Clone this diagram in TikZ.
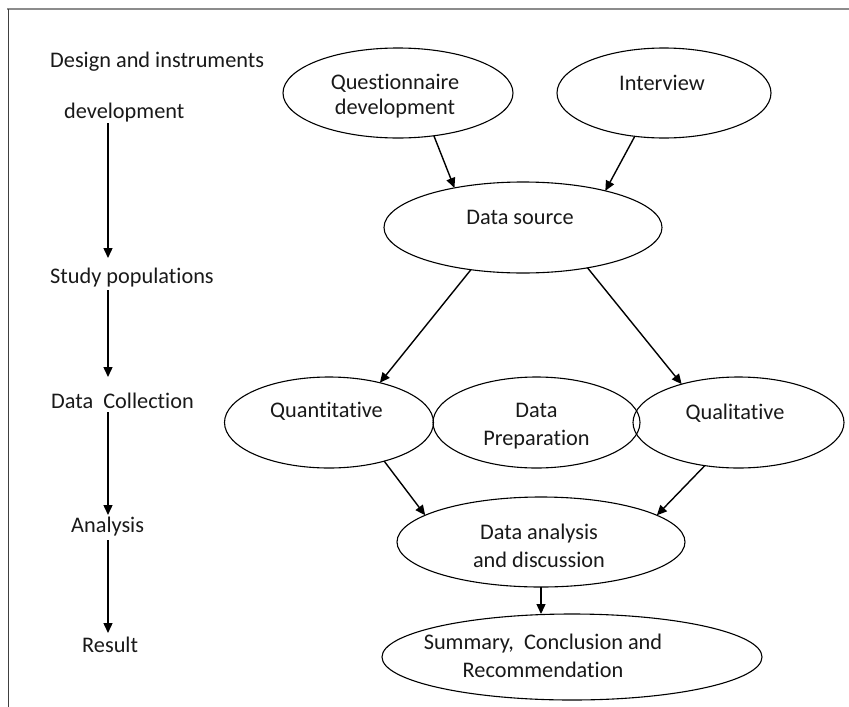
\documentclass[tikz,border=0pt]{standalone}
\usepackage{fontspec}
\setmainfont{Carlito}[Ligatures={NoCommon}]
\usetikzlibrary{shapes.geometric,arrows.meta}
\tikzset{
  ell/.style={ellipse, draw, line width=1.1pt, inner sep=0pt, outer sep=0pt},
  txt/.style={align=center, inner sep=0pt, text=black!90},
  lab/.style={anchor=base west, inner sep=0pt, text=black!90},
  arr/.style={line width=1.4pt, -{Triangle[length=10pt,width=9pt]}},
}
\begin{document}
\begin{tikzpicture}[x=1pt,y=-1pt,font=\fontsize{22.3}{28}\selectfont]
\useasboundingbox (0,0) rectangle (849,707);
% frame
\draw[black!45, line width=2.5pt] (7,9) -- (849,9);
\draw[black!75, line width=1pt] (8,9) -- (8,707);
% left labels
\node[lab] (l1) at (50,67) {Design and instruments};
\node[lab] (l2) at (64,118) {development};
\node[lab] (l3) at (50,283) {Study populations};
\node[lab] (l4) at (51,408) {Data\ \ Collection};
\node[lab] (l5) at (71,532) {Analysis};
\node[lab] (l6) at (82,652) {Result};
\coordinate (a1s) at (108,123); \coordinate (a1e) at (108,258);
\coordinate (a2s) at (108,290); \coordinate (a2e) at (108,377);
\coordinate (a3s) at (108,412); \coordinate (a3e) at (108,515);
\coordinate (a4s) at (108,540); \coordinate (a4e) at (108,633);
\draw[arr] (a1s) -- (a1e);
\draw[arr] (a2s) -- (a2e);
\draw[arr] (a3s) -- (a3e);
\draw[arr] (a4s) -- (a4e);
% ellipses
\node[ell, minimum width=230pt, minimum height=90pt] (qd) at (398,93) {};
\node[ell, minimum width=214pt, minimum height=90pt] (iv) at (664,93) {};
\node[ell, minimum width=278pt, minimum height=91pt] (ds) at (523,227.5) {};
\node[ell, minimum width=209pt, minimum height=91pt] (qn) at (329,422.5) {};
\node[ell, minimum width=207pt, minimum height=91pt] (dp) at (536.5,422.5) {};
\node[ell, minimum width=211pt, minimum height=91pt] (ql) at (738.5,422.5) {};
\node[ell, minimum width=288pt, minimum height=90pt] (da) at (541,542) {};
\node[ell, minimum width=380pt, minimum height=86pt] (sm) at (572,657) {};
% texts
\node[txt] (qdt) at (395,96) {Questionnaire\\[-3pt]development};
\node[txt] (ivt) at (662,83) {Interview};
\node[txt] (dst) at (520,217) {Data source};
\node[txt] (qnt) at (326.5,411) {Quantitative};
\node[txt] (dpt) at (536.5,426) {Data\\Preparation};
\node[txt] (qlt) at (735,413) {Qualitative};
\node[txt] (dat) at (539,546) {Data analysis\\and discussion};
\node[txt] (smt) at (543,656) {Summary,\ \ Conclusion and\\Recommendation};
% arrows
\draw[arr] (qd.-50.6) -- (ds.150.3);
\draw[arr] (iv.-124.6) -- (ds.24.2);
\draw[arr] (ds.-141.9) -- (qn.38.6);
\draw[arr] (ds.-32.3) -- (ql.146.7);
\draw[arr] (qn.-35.9) -- (da.167.2);
\draw[arr] (ql.-128) -- (da.13.6);
\draw[arr] (da.south) -- (da.south |- sm.north);
\end{tikzpicture}
\end{document}
